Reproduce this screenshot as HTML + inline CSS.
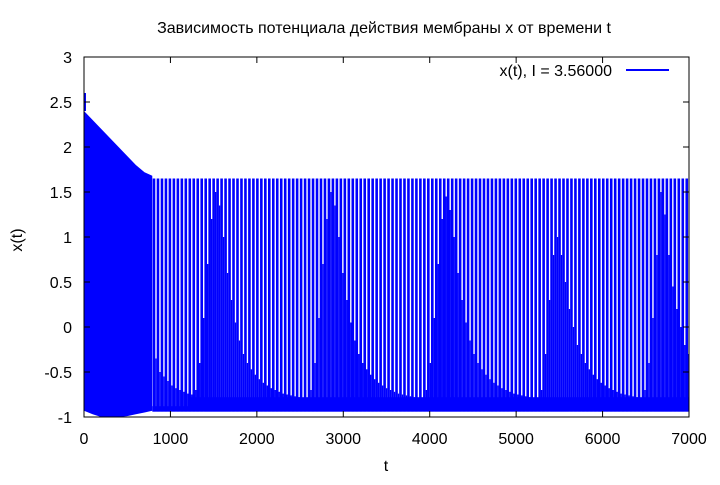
<!DOCTYPE html>
<html><head><meta charset="utf-8"><style>
body{margin:0;background:#fff}
svg text{font-family:"Liberation Sans","DejaVu Sans",sans-serif;fill:#000}
</style></head><body>
<svg id="chart" width="720" height="480" viewBox="0 0 720 480" xmlns="http://www.w3.org/2000/svg">
<text x="384" y="33" font-size="16" text-anchor="middle">Зависимость потенциала действия мембраны x от времени t</text>
<g id="plot"></g>
<rect x="84" y="57" width="605" height="360" fill="none" stroke="#000" stroke-width="1"/>
<g id="axes"></g>
<text x="22" y="240" font-size="16" text-anchor="middle" transform="rotate(-90 22 240)">x(t)</text>
<text x="386" y="471" font-size="16" text-anchor="middle">t</text>
<g>
<text x="612" y="76" font-size="16" text-anchor="end">x(t), I = 3.56000</text>
<line x1="626" y1="70" x2="669" y2="70" stroke="#0000ff" stroke-width="2"/>
</g>
</svg>
<script>
const xTicks=[0,1000,2000,3000,4000,5000,6000,7000];
const yTicks=[-1,-0.5,0,0.5,1,1.5,2,2.5,3];
const yTickLabels=["-1","-0.5","0","0.5","1","1.5","2","2.5","3"];
// transient region envelope
const envT=[0,100,200,300,400,500,600,700,790];
const envTop=[2.4,2.3,2.2,2.1,2.0,1.9,1.8,1.72,1.68];
const envBot=[-0.93,-0.97,-1.0,-1.0,-1.0,-0.99,-0.97,-0.95,-0.93];
const firstSpike=2.6;
// periodic regime
const spikeStart=810, spikePeriod=46, mainPeak=1.65, trough=-0.94;
const secondary=[-0.35,-0.5,-0.55,-0.6,-0.65,-0.68,-0.7,-0.72,-0.74,-0.75,
-0.7,-0.4,0.1,0.7,1.2,1.5,1.35,1.0,0.6,0.3,0.05,-0.15,-0.3,-0.4,-0.47,-0.53,-0.58,-0.62,-0.65,-0.68,-0.7,-0.72,-0.74,-0.75,-0.76,-0.77,-0.78,-0.79,-0.8,
-0.7,-0.4,0.1,0.7,1.2,1.5,1.35,1.0,0.6,0.3,0.05,-0.15,-0.3,-0.4,-0.47,-0.53,-0.58,-0.62,-0.65,-0.68,-0.7,-0.72,-0.74,-0.75,-0.76,-0.77,-0.78,-0.79,-0.8,
-0.7,-0.4,0.1,0.7,1.2,1.45,1.3,1.0,0.6,0.3,0.05,-0.15,-0.3,-0.4,-0.47,-0.53,-0.58,-0.62,-0.65,-0.68,-0.7,-0.72,-0.74,-0.75,-0.76,-0.77,-0.78,-0.79,-0.8,
-0.7,-0.3,0.3,0.8,1.0,0.8,0.5,0.2,0.0,-0.2,-0.3,-0.4,-0.47,-0.53,-0.58,-0.62,-0.65,-0.68,-0.7,-0.72,-0.74,-0.75,-0.76,-0.77,-0.78,-0.79,
-0.7,-0.4,0.1,0.8,1.5,1.25,0.8,0.45,0.2,0.0,-0.2,-0.3];
const bandStart=1230, bandTop=-0.78;
const X=t=>84+t*605/7000, Y=v=>57+(3-v)*90;
const NS='http://www.w3.org/2000/svg';
const plot=document.getElementById('plot'), axes=document.getElementById('axes');
function mk(tag,attrs,parent){const e=document.createElementNS(NS,tag);for(const k in attrs)e.setAttribute(k,attrs[k]);parent.appendChild(e);return e;}
// transient
let pts=envT.map((t,i)=>X(t)+','+Y(envTop[i]));
for(let i=envT.length-1;i>=0;i--)pts.push(X(envT[i])+','+Y(envBot[i]));
const poly=mk('polygon',{points:pts.join(' '),fill:'#0000ff'},plot);


const fs=mk('line',{x1:X(0)+1,x2:X(0)+1,y1:Y(firstSpike),y2:Y(envTop[0]),stroke:'#0000ff','stroke-width':2},plot);


// bottom bands
const b0=mk('rect',{x:X(spikeStart-20),y:Y(-0.88),width:X(7000)-X(spikeStart-20),height:Y(trough)-Y(-0.88),fill:'#0000ff'},plot);


const bb=mk('rect',{x:X(bandStart),y:Y(bandTop),width:X(7000)-X(bandStart),height:Y(-0.9)-Y(bandTop),fill:'#0000ff'},plot);


for(let k=0;k<secondary.length;k++){
  const t=spikeStart+k*spikePeriod;
  if(t>7000)break;
  const m=mk('line',{x1:X(t),x2:X(t),y1:Y(mainPeak),y2:Y(trough),stroke:'#0000ff','stroke-width':2.6},plot);
  
  
  const ts=t+spikePeriod/2;
  if(ts<7000){
  const s=mk('line',{x1:X(ts),x2:X(ts),y1:Y(secondary[k]),y2:Y(trough),stroke:'#0000ff','stroke-width':1.4},plot);
  
  }
}
xTicks.forEach(v=>{
  const x=X(v);
  mk('line',{x1:x,x2:x,y1:417,y2:411,stroke:'#000'},axes);
  mk('line',{x1:x,x2:x,y1:57,y2:63,stroke:'#000'},axes);
  const tx=mk('text',{x:x,y:444,'font-size':16,'text-anchor':'middle'},axes);
  tx.textContent=v;
  
  
});
yTicks.forEach((v,i)=>{
  const y=Y(v);
  mk('line',{x1:84,x2:90,y1:y,y2:y,stroke:'#000'},axes);
  mk('line',{x1:689,x2:683,y1:y,y2:y,stroke:'#000'},axes);
  const tx=mk('text',{x:72,y:y+6,'font-size':16,'text-anchor':'end'},axes);
  tx.textContent=yTickLabels[i];
  
  
});
</script>
</body></html>
